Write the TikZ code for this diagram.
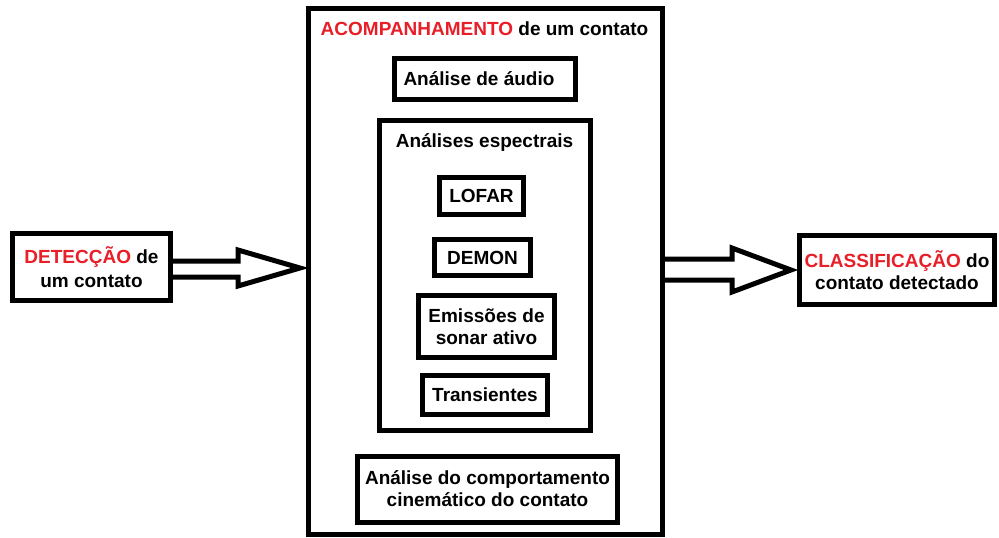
\documentclass[tikz,border=0pt]{standalone}
\usepackage{fontspec}
\setmainfont{Liberation Sans}
\usetikzlibrary{calc}
\definecolor{tred}{RGB}{232,30,40}
\begin{document}
\begin{tikzpicture}[x=1pt,y=-1pt,
  box/.style={draw=black, line width=5pt, fill=white, inner sep=0pt, align=center,
    font=\fontsize{19}{22}\selectfont\bfseries},
  txt/.style={inner sep=0pt, font=\fontsize{19}{22}\selectfont\bfseries},
  blockarrow/.style={draw=black, line width=5pt, fill=white, line join=miter}]
\useasboundingbox (0,0) rectangle (999,538);
\fill[white] (0,0) rectangle (999,538);

% main container
\node[box, minimum width=354pt, minimum height=526pt] (main) at (485.5,271.5) {};
\node[txt, anchor=base] (title) at (484.5,35) {\textcolor{tred}{ACOMPANHAMENTO} de um contato};

\node[box, minimum width=181pt, minimum height=41pt] (audio) at (485,79) {\hspace*{-12pt}Análise de áudio};

\node[box, minimum width=211pt, minimum height=310pt] (spec) at (485,275.5) {};
\node[txt, anchor=base] (spectitle) at (484.5,147) {Análises espectrais};

\node[box, minimum width=84pt, minimum height=37pt] (lofar) at (481.5,196) {LOFAR};
\node[box, minimum width=96pt, minimum height=36pt] (demon) at (482.5,257.5) {DEMON};
\node[box, minimum width=136pt, minimum height=62pt] (sonar) at (486.5,326.5) {Emissões de\\sonar ativo};
\node[box, minimum width=125pt, minimum height=39pt] (trans) at (485,395) {Transientes};

\node[box, minimum width=260pt, minimum height=66pt] (cinem) at (487.5,489) {Análise do comportamento\\cinemático do contato};

% side boxes
\node[box, font=\fontsize{19}{24}\selectfont\bfseries, minimum width=158pt, minimum height=67pt] (det) at (91.5,267)
  {\textcolor{tred}{DETECÇÃO} de\\um contato};
\node[box, minimum width=195pt, minimum height=69pt] (cls) at (897,270)
  {\textcolor{tred}{CLASSIFICAÇÃO} do\\contato detectado};

% block arrows
\coordinate (la1) at (238,261);
\coordinate (la2) at (238,250);
\coordinate (la3) at (238,286);
\coordinate (la4) at (238,277);
\coordinate (ltip) at (0,268);
\draw[blockarrow] (det.east |- la1) -- (la1) -- (la2) -- ($(main.west |- ltip)+(-6,0)$)
  -- (la3) -- (la4) -- (det.east |- la4);

\coordinate (ra1) at (732,259);
\coordinate (ra2) at (732,248);
\coordinate (ra3) at (732,292);
\coordinate (ra4) at (732,280);
\draw[blockarrow] (main.east |- ra1) -- (ra1) -- (ra2) -- ($(cls.west)+(-6,0)$)
  -- (ra3) -- (ra4) -- (main.east |- ra4);
\end{tikzpicture}
\end{document}
